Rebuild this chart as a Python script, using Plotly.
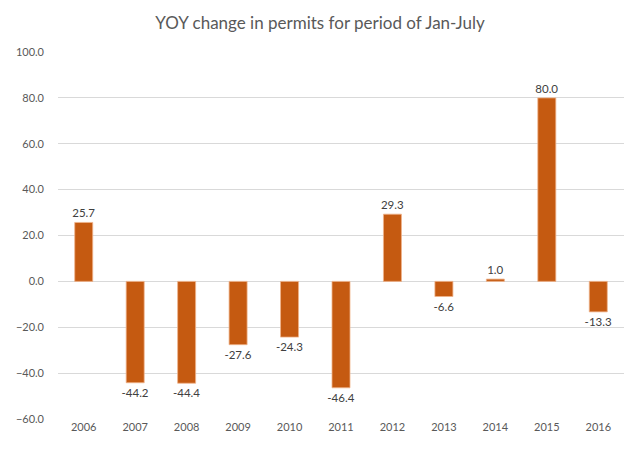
import plotly.graph_objects as go

years = ["2006", "2007", "2008", "2009", "2010", "2011",
         "2012", "2013", "2014", "2015", "2016"]
yoy_change = [25.7, -44.2, -44.4, -27.6, -24.3, -46.4,
              29.3, -6.6, 1.0, 80.0, -13.3]
y_ticks = [-60, -40, -20, 0, 20, 40, 60, 80, 100]

BAR_COLOR = "#C55A11"
TEXT_GRAY = "#595959"


def make_chart():
    fig = go.Figure()

    fig.add_trace(go.Bar(
        x=years,
        y=yoy_change,
        marker=dict(color=BAR_COLOR, line=dict(color="#F0B48C", width=0.8)),
        width=0.35,
        text=[f"{v:.1f}" for v in yoy_change],
        textposition="outside",
        constraintext="none",
        cliponaxis=False,
        textfont=dict(size=11.5, color="#404040"),
        hoverinfo="skip",
    ))

    # page body has an 8px margin, so the figure is sized/offset for it
    fig.update_layout(
        title=dict(
            text="YOY change in permits for period of Jan-July",
            x=0.5, xanchor="center",
            y=0.965, yanchor="middle",
            font=dict(size=17, color=TEXT_GRAY),
        ),
        width=624,
        height=436,
        margin=dict(l=42, r=8, t=44, b=25),
        paper_bgcolor="white",
        plot_bgcolor="white",
        font=dict(family="Lato, Open Sans, sans-serif", size=11, color=TEXT_GRAY),
        showlegend=False,
        bargap=0.65,
    )

    fig.update_yaxes(
        range=[-60, 100],
        tickvals=y_ticks,
        tickformat=".1f",
        showgrid=True,
        gridcolor="#D9D9D9",
        gridwidth=1,
        zeroline=True,
        zerolinecolor="#D9D9D9",
        zerolinewidth=1,
        showline=False,
        ticks="",
        ticklabelstandoff=13,
        tickfont=dict(size=11, color=TEXT_GRAY),
    )

    fig.update_xaxes(
        showgrid=False,
        showline=False,
        ticks="",
        tickfont=dict(size=11, color=TEXT_GRAY),
    )

    fig.write_html("out.html")


if __name__ == "__main__":
    make_chart()
